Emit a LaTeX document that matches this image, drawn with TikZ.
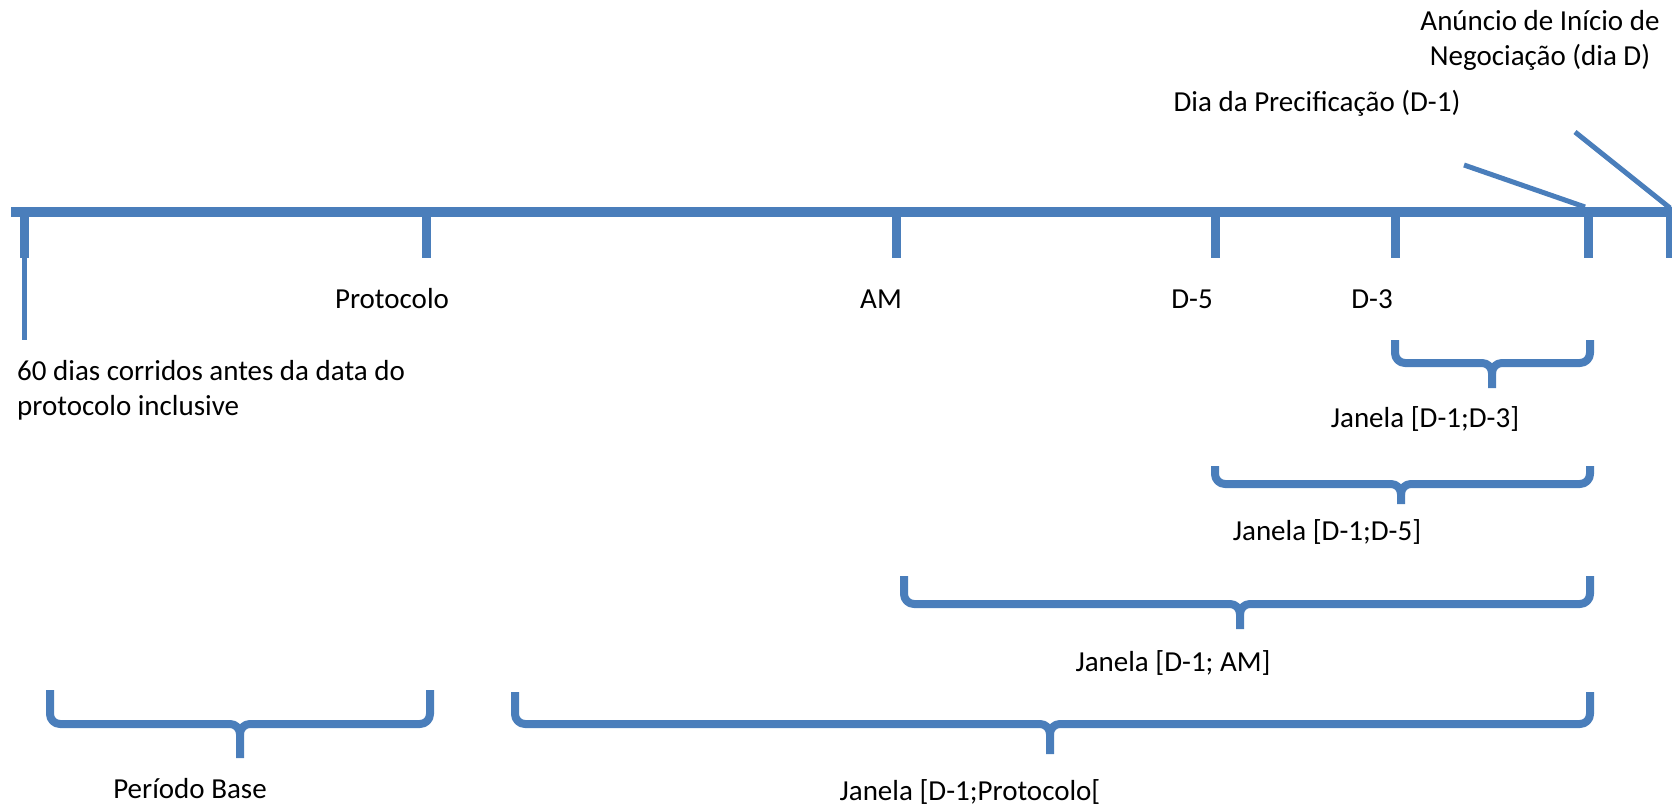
\documentclass[tikz,border=0pt]{standalone}
\usepackage{fontspec}
\setmainfont{Carlito}
\definecolor{wblue}{RGB}{74,126,187}
\newcommand\wbrace[7]{% name, L, R, T, top, h, tip
  \coordinate (#1L) at (#2,#5);
  \coordinate (#1R) at (#3,#5);
  \coordinate (#1T) at (#4,#7);
  \draw[bracestyle] (#1L) -- (#2,#6-10) to[out=-90,in=180] (#2+10,#6) -- (#4-10,#6) to[out=0,in=90] (#4,#6+10) -- (#1T);
  \draw[bracestyle] (#1R) -- (#3,#6-10) to[out=-90,in=0] (#3-10,#6) -- (#4+10,#6) to[out=180,in=90] (#4,#6+10);
}
\begin{document}
\begin{tikzpicture}[x=1pt,y=-1pt,
  axis/.style={wblue,line width=10pt},
  tick/.style={wblue,line width=9pt},
  thinline/.style={wblue,line width=5pt},
  bracestyle/.style={wblue,line width=8pt,line join=round},
  lbl/.style={inner sep=0pt,font=\fontsize{29}{35}\selectfont,text=black}]
\useasboundingbox (0,0) rectangle (1672,805);
% timeline
\coordinate (start) at (11,212);
\coordinate (end) at (1672,212);
\draw[axis] (start) -- (end);
\foreach \n/\x in {t0/24,t1/426,t2/896,t3/1215,t4/1395,t5/1588,t6/1670}{
  \coordinate (\n) at (\x,212);
  \coordinate (\n b) at (\x,258);
  \draw[tick] (\n) -- (\n b);
}
\coordinate (t0c) at (24,340);
\draw[thinline] (t0b) -- (t0c);
% diagonal pointers
\coordinate (p1a) at (1464,165);
\coordinate (p1b) at (1585,207);
\coordinate (p2a) at (1575,132);
\coordinate (p2b) at (1670,208);
\draw[thinline] (p1a) -- (p1b);
\draw[thinline] (p2a) -- (p2b);
% labels
\node[lbl,align=center] (anuncio) at (1540,40) {Anúncio de Início de\\Negociação (dia D)};
\node[lbl,anchor=base] (prec) at (1317,112) {Dia da Precificação (D-1)};
\node[lbl,anchor=base] (prot) at (392,308) {Protocolo};
\node[lbl,anchor=base] (am) at (881,308) {AM};
\node[lbl,anchor=base] (d5) at (1192,308) {D-5};
\node[lbl,anchor=base] (d3) at (1372,308) {D-3};
\node[lbl,anchor=base west] (sixty1) at (17,380) {60 dias corridos antes da data do};
\node[lbl,anchor=base west] (sixty2) at (17,415) {protocolo inclusive};
% braces
\wbrace{b1}{1395}{1590}{1492}{340}{363}{388}
\wbrace{b2}{1215}{1590}{1401}{466}{484}{504}
\wbrace{b3}{904}{1590}{1240}{576}{604}{629}
\wbrace{b4}{515}{1590}{1050}{692}{724}{754}
\wbrace{b5}{50}{430}{240}{690}{724}{758}
\node[lbl,anchor=base] (j1) at (1425,427) {Janela [D-1;D-3]};
\node[lbl,anchor=base] (j2) at (1327,540) {Janela [D-1;D-5]};
\node[lbl,anchor=base] (j3) at (1173,671) {Janela [D-1; AM]};
\node[lbl,anchor=base] (j4) at (970,800) {Janela [D-1;Protocolo[};
\node[lbl,anchor=base] (pb) at (190,798) {Período Base};
\end{tikzpicture}
\end{document}
